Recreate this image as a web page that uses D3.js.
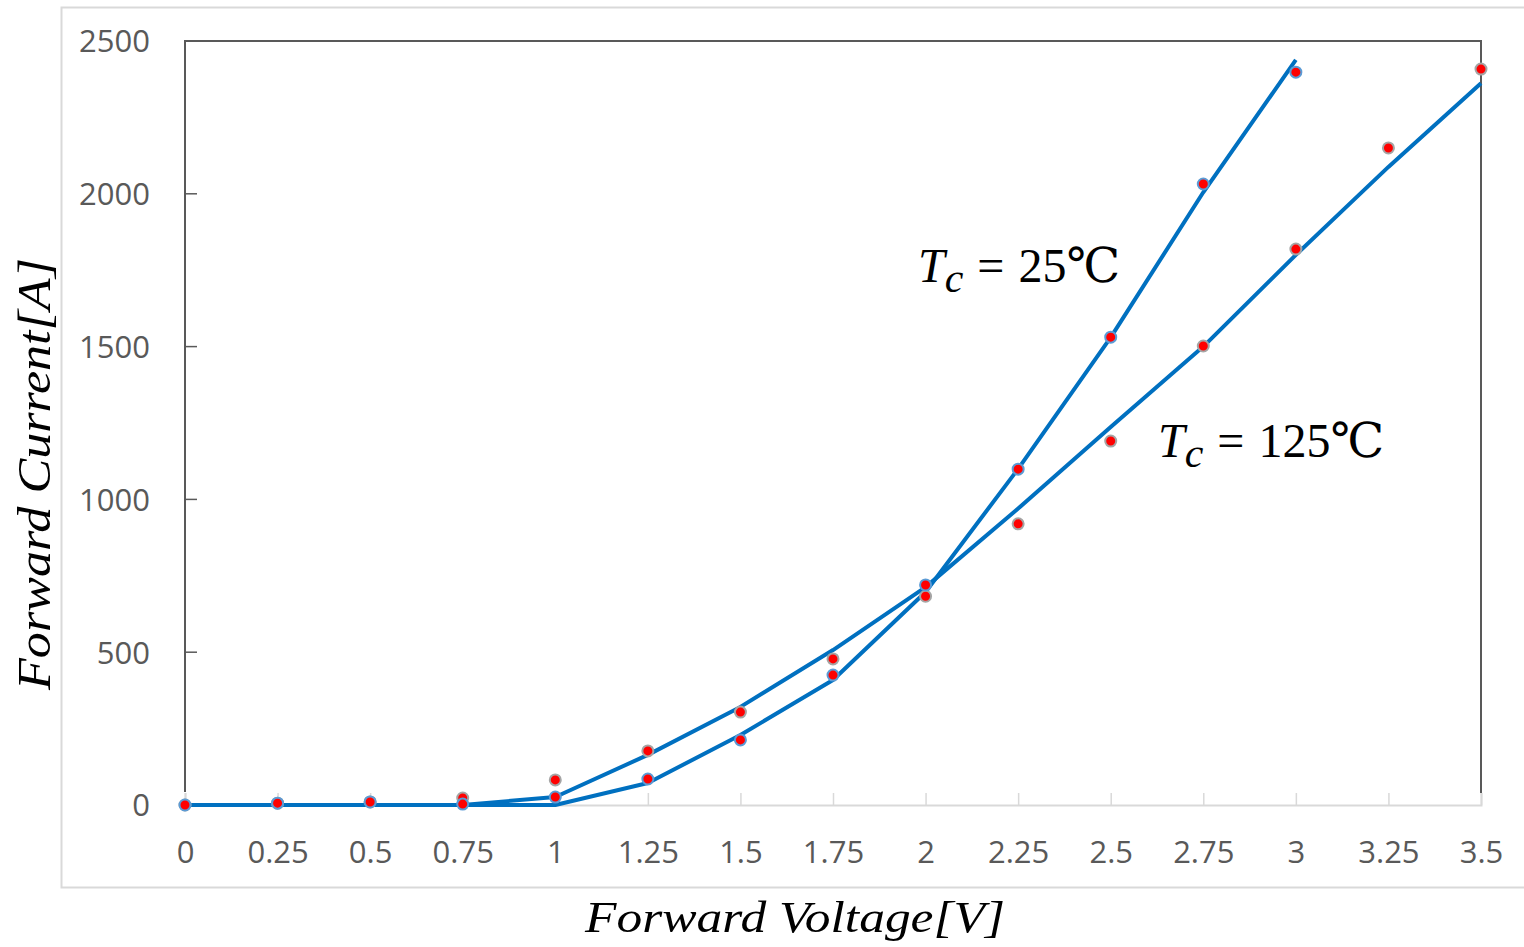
<!DOCTYPE html>
<html>
<head>
<meta charset="utf-8">
<script src="https://cdn.jsdelivr.net/npm/d3@7"></script>
<style>
  body { margin: 0; background: #fff; }
  svg { display: block; }
</style>
</head>
<body>
<svg id="chart" width="1524" height="947"></svg>
<script>
// forward voltage steps (V)
var voltage = [0, 0.25, 0.5, 0.75, 1, 1.25, 1.5, 1.75, 2, 2.25, 2.5, 2.75, 3, 3.25, 3.5]

// measured points (A)
var meas25 = [0, 6, 10, 3, 26, 85, 213, 425, 720, 1099, 1531, 2032, 2398]
var meas125 = [0, 6, 10, 23, 82, 177, 304, 478, 683, 920, 1191, 1502, 1819, 2150, 2408]

// fitted curves (A)
var fit25 = [0, 0, 0, 0, 0, 72, 229, 409, 697, 1100, 1530, 2005, 2438]
var fit125 = [0, 0, 0, 0, 26, 164, 321, 507, 713, 970, 1237, 1500, 1800, 2088, 2362]

var yTicks = [0, 500, 1000, 1500, 2000, 2500]

var margin = { top: 41, left: 185, right: 1481, bottom: 805 }

var svg = d3.select('#chart')

var x = d3.scaleLinear().domain([0, 3.5]).range([margin.left, margin.right])
var y = d3.scaleLinear().domain([0, 2500]).range([margin.bottom, margin.top])

// outer chart border
svg.append('rect')
  .attr('x', 61.5).attr('y', 7.5)
  .attr('width', 1500).attr('height', 880)
  .attr('fill', 'none')
  .attr('stroke', '#d9d9d9')
  .attr('stroke-width', 2)

// bottom axis (light)
var xAxis = svg.append('g')
  .attr('transform', 'translate(0,' + y(0) + ')')
  .call(d3.axisBottom(x).tickValues(voltage).tickSize(-12).tickFormat(d => String(d)))
xAxis.select('.domain').attr('stroke', '#d9d9d9').attr('stroke-width', 2)
xAxis.selectAll('.tick line').attr('stroke', '#d9d9d9').attr('stroke-width', 1.5)
xAxis.selectAll('.tick text')
  .attr('y', 58).attr('dy', null)
  .attr('fill', '#595959')
  .style('font-family', '"Open Sans", sans-serif')
  .style('font-size', '31px')

// left axis (dark), stops short of the baseline
var yAxis = svg.append('g')
  .attr('transform', 'translate(' + x(0) + ',0)')
  .call(d3.axisLeft(y).tickValues(yTicks).tickSize(0).tickPadding(35).tickFormat(d => String(d)))
yAxis.select('.domain').remove()
yAxis.selectAll('.tick text')
  .attr('dy', '0.35em')
  .attr('fill', '#595959')
  .style('font-family', '"Open Sans", sans-serif')
  .style('font-size', '31px')

var frame = svg.append('g')
  .attr('stroke', '#595959')
  .attr('stroke-width', 2)
  .attr('fill', 'none')
frame.append('path')
  .attr('d', 'M' + x(0) + ',' + (y(0) - 13) + 'V' + y(2500) + 'H' + x(3.5) + 'V' + (y(0) - 12))
frame.selectAll('.ytick')
  .data(yTicks.filter(d => d > 0 && d < 2500))
  .join('line')
  .attr('class', 'ytick')
  .attr('x1', x(0)).attr('x2', x(0) + 12)
  .attr('y1', d => y(d)).attr('y2', d => y(d))
  .attr('stroke-width', 1.5)

// fitted lines
var line = d3.line()
  .x((d, i) => x(voltage[i]))
  .y(d => y(d))

svg.selectAll('.fit')
  .data([fit125, fit25])
  .join('path')
  .attr('class', 'fit')
  .attr('d', line)
  .attr('fill', 'none')
  .attr('stroke', '#0070c0')
  .attr('stroke-width', 4)
  .attr('stroke-linejoin', 'round')

// measured markers
var series = [
  { vals: meas125, edge: '#a5a5a5' },
  { vals: meas25, edge: '#5b9bd5' }
]
series.forEach(s => {
  svg.append('g').selectAll('circle')
    .data(s.vals)
    .join('circle')
    .attr('cx', (d, i) => x(voltage[i]))
    .attr('cy', d => y(d))
    .attr('r', 5.5)
    .attr('fill', '#ff0000')
    .attr('stroke', s.edge)
    .attr('stroke-width', 2)
})

// axis titles
var serif = '"Liberation Serif", "DejaVu Serif", serif'
svg.append('text')
  .attr('x', 795).attr('y', 932)
  .attr('text-anchor', 'middle')
  .attr('textLength', 420)
  .attr('lengthAdjust', 'spacingAndGlyphs')
  .style('font-family', serif)
  .style('font-style', 'italic')
  .style('font-size', '45px')
  .text('Forward Voltage[V]')

svg.append('text')
  .attr('transform', 'translate(50,' + 474 + ') rotate(-90)')
  .attr('text-anchor', 'middle')
  .attr('textLength', 432)
  .attr('lengthAdjust', 'spacingAndGlyphs')
  .style('font-family', serif)
  .style('font-style', 'italic')
  .style('font-size', '46px')
  .text('Forward Current[A]')

// temperature labels
var labels = [
  { temp: '25', px: 918, py: 282 },
  { temp: '125', px: 1158, py: 457 }
]
labels.forEach(l => {
  var t = svg.append('text')
    .attr('x', l.px).attr('y', l.py)
    .style('font-family', serif)
    .style('font-size', '48px')
    .attr('fill', '#000')
  t.append('tspan').style('font-style', 'italic').text('T')
  t.append('tspan').style('font-style', 'italic').style('font-size', '42px').attr('dy', 10).text('c')
  t.append('tspan').attr('dx', 14).attr('dy', -10).text('=')
  t.append('tspan').attr('dx', 14).text(l.temp + '\u2103')
})
</script>
</body>
</html>
